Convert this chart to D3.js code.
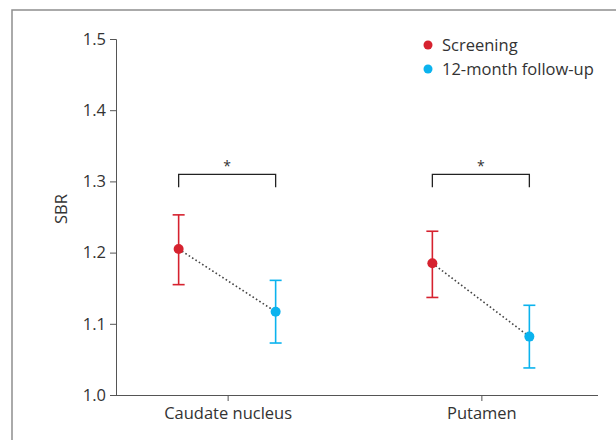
<!DOCTYPE html>
<html>
<head>
<meta charset="utf-8">
<script src="https://cdn.jsdelivr.net/npm/d3@7"></script>
<style>
  body { margin: 0; background: #fff; }
  svg { display: block; font-family: "Open Sans", "Noto Sans", sans-serif; }
</style>
</head>
<body>
<div id="chart"></div>
<script>
// SBR at screening vs 12-month follow-up, mean with error bars

const regions = ['Caudate nucleus', 'Putamen'];
const visits = ['Screening', '12-month follow-up'];
const visitColors = ['#d6222f', '#0bb3ee'];

// [mean, lower, upper] per region, one array per visit
const screening = [[1.205, 1.155, 1.253], [1.185, 1.137, 1.230]];
const followUp = [[1.117, 1.073, 1.161], [1.082, 1.038, 1.126]];

const yTicks = [1.0, 1.1, 1.2, 1.3, 1.4, 1.5];
const bracketLevel = [1.31, 1.31];
const bracketLabel = ['*', '*'];

const W = 616, H = 440;
const svg = d3.select('#chart').append('svg')
    .attr('width', W)
    .attr('height', H);

// outer frame (only top and left show in the crop)
svg.append('path')
    .attr('d', `M12,${H} V10 H${W}`)
    .attr('fill', 'none')
    .attr('stroke', '#8f8f8f')
    .attr('stroke-width', 1.5);

const plotLeft = 116, plotRight = 598, plotTop = 39, plotBottom = 395;
const fontSize = '16.5px';

// category centres sit a bit left of the axis middle, so the scale range
// stops short of the drawn axis line
const x = d3.scalePoint()
    .domain(regions)
    .range([plotLeft, 593])
    .padding(0.44);

const offset = d3.scalePoint()
    .domain(visits)
    .range([-49, 48]);

const y = d3.scaleLinear()
    .domain([1.0, 1.5])
    .range([plotBottom, plotTop]);

// axes
const yAxis = svg.append('g')
    .attr('transform', `translate(${plotLeft},0)`)
    .call(d3.axisLeft(y).tickValues(yTicks).tickFormat(d3.format('.1f')).tickSize(6).tickSizeOuter(6));

const xAxis = svg.append('g')
    .attr('transform', `translate(0,${plotBottom})`)
    .call(d3.axisBottom(x).tickSize(6).tickSizeOuter(0));
xAxis.select('.domain').attr('d', `M${plotLeft},0.5H${plotRight}`);

[yAxis, xAxis].forEach(g => {
    g.attr('font-size', fontSize).attr('font-family', '"Open Sans", sans-serif');
    g.selectAll('path, line').attr('stroke', '#555').attr('stroke-width', 1);
    g.selectAll('text').attr('fill', '#333');
});
yAxis.selectAll('text').attr('x', -10);
xAxis.selectAll('text').attr('y', 12);

svg.append('text')
    .attr('transform', `translate(61,${(plotTop + plotBottom) / 2 - 8}) rotate(-90)`)
    .attr('text-anchor', 'middle')
    .attr('dy', '0.35em')
    .attr('font-size', fontSize)
    .attr('fill', '#333')
    .text('SBR');

const series = [screening, followUp];

// dotted lines joining the two visits
regions.forEach((r, i) => {
    svg.append('line')
        .attr('x1', x(r) + offset(visits[0]))
        .attr('y1', y(screening[i][0]))
        .attr('x2', x(r) + offset(visits[1]))
        .attr('y2', y(followUp[i][0]))
        .attr('stroke', '#444')
        .attr('stroke-width', 1.6)
        .attr('stroke-dasharray', '1.6,2.4');
});

// error bars and points
series.forEach((vals, s) => {
    const color = visitColors[s];
    regions.forEach((r, i) => {
        const cx = x(r) + offset(visits[s]);
        const [m, lo, hi] = vals[i];
        const g = svg.append('g').attr('stroke', color).attr('stroke-width', 1.6);
        g.append('line').attr('x1', cx).attr('x2', cx).attr('y1', y(lo)).attr('y2', y(hi));
        g.append('line').attr('x1', cx - 6).attr('x2', cx + 6).attr('y1', y(lo)).attr('y2', y(lo));
        g.append('line').attr('x1', cx - 6).attr('x2', cx + 6).attr('y1', y(hi)).attr('y2', y(hi));
        svg.append('circle')
            .attr('cx', cx)
            .attr('cy', y(m))
            .attr('r', 5)
            .attr('fill', color);
    });
});

// significance brackets
regions.forEach((r, i) => {
    const x1 = x(r) + offset(visits[0]);
    const x2 = x(r) + offset(visits[1]);
    const by = y(bracketLevel[i]);
    svg.append('path')
        .attr('d', `M${x1},${by + 13} V${by} H${x2} V${by + 13}`)
        .attr('fill', 'none')
        .attr('stroke', '#222')
        .attr('stroke-width', 1.3);
    svg.append('text')
        .attr('x', (x1 + x2) / 2)
        .attr('y', by - 3)
        .attr('text-anchor', 'middle')
        .attr('font-size', '14px')
        .attr('fill', '#333')
        .text(bracketLabel[i]);
});

// legend
const legend = svg.append('g').attr('transform', 'translate(428,45)');
visits.forEach((v, i) => {
    const row = legend.append('g').attr('transform', `translate(0,${i * 24})`);
    row.append('circle').attr('r', 4.5).attr('fill', visitColors[i]);
    row.append('text')
        .attr('x', 14)
        .attr('dy', '0.35em')
        .attr('font-size', fontSize)
        .attr('fill', '#333')
        .text(v);
});
</script>
</body>
</html>
